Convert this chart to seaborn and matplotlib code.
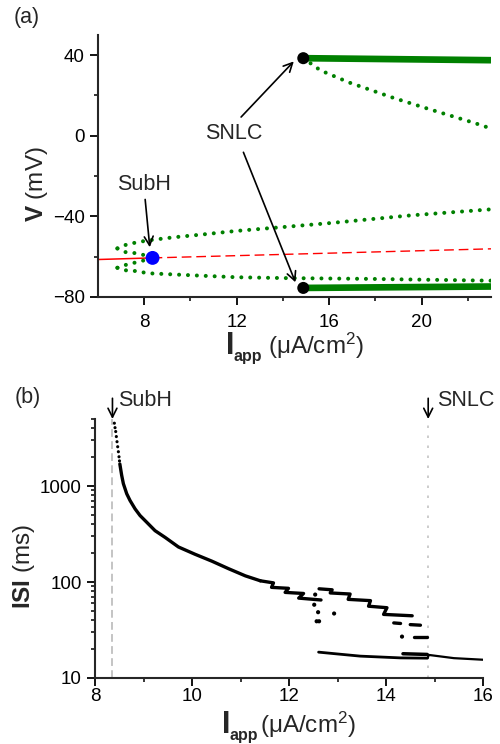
import numpy as np
import pandas as pd
import matplotlib
matplotlib.use("Agg")
import matplotlib.pyplot as plt
import seaborn as sns

# ---------------- data: panel (a) bifurcation diagram ----------------
rest_stable_I = [6.0, 8.36]
rest_stable_V = [-61.4, -60.6]
rest_unstable_I = [8.36, 23.0]
rest_unstable_V = [-60.6, -56.1]

inner_up_I = [6.84, 7.18, 7.58, 8.0, 8.36]
inner_up_V = [-55.9, -57.7, -58.2, -59.2, -60.6]
inner_lo_I = [6.84, 7.22, 7.58, 8.0, 8.36]
inner_lo_V = [-65.5, -64.0, -63.0, -61.8, -60.6]

outer_up_I = [6.84, 7.25, 7.68, 8.16, 9.34, 10.5, 12.0, 14.0, 16.06, 19.53, 23.0]
outer_up_V = [-55.9, -53.9, -52.9, -51.9, -50.3, -49.0, -47.2, -45.3, -43.3, -39.5, -36.5]
outer_lo_I = [6.84, 7.22, 7.73, 8.12, 10.21, 12.0, 14.0, 17.65, 23.0]
outer_lo_V = [-65.5, -66.8, -67.2, -68.2, -69.3, -70.2, -70.6, -71.0, -71.9]

snlc_unst_I = [14.88, 15.63, 16.87, 18.78, 20.33, 22.27, 23.0]
snlc_unst_V = [38.5, 32.4, 26.4, 18.8, 13.2, 6.4, 3.6]

stable_up_I = [14.88, 23.0]
stable_up_V = [38.5, 37.5]
stable_lo_I = [14.88, 23.0]
stable_lo_V = [-75.5, -74.8]

subh_point = (8.36, -60.6)
snlc_points_I = [14.88, 14.88]
snlc_points_V = [38.5, -75.5]

# ---------------- data: panel (b) ISI ----------------
top_dots_I = [8.399, 8.413, 8.427, 8.44, 8.454, 8.468, 8.482, 8.495, 8.505]
top_dots_ISI = [4520, 4060, 3700, 3280, 2900, 2570, 2280, 2020, 1830]

main_I = [8.512, 8.55, 8.585, 8.654, 8.722, 8.826, 8.929, 9.066, 9.238, 9.445,
          9.72, 10.06, 10.41, 10.75, 11.10, 11.41]
main_ISI = [1700, 1294, 1059, 832, 708, 579, 493, 420, 343, 292,
            232, 195, 165, 138, 116, 103]

# staircase chains (each chain drawn as one jagged line)
chainA_I = [11.41, 11.68, 11.64, 11.99, 11.92, 12.30, 12.20, 12.66]
chainA_ISI = [103, 98, 88, 86, 78, 76, 68, 65]
chainB_I = [12.62, 12.89, 12.85, 13.26, 13.22, 13.68, 13.64, 14.02, 13.95, 14.54]
chainB_ISI = [85, 83, 77, 75, 66, 64, 56, 54, 46, 44.5]
# short isolated segments: (I start, I end, ISI start, ISI end)
seg_I0 = [14.16, 14.50, 14.58]
seg_I1 = [14.30, 14.71, 14.85]
seg_S0 = [37.5, 36, 26.5]
seg_S1 = [37, 35.5, 26.5]

scatter_I = [12.54, 12.52, 12.60, 12.57, 12.62, 12.93, 14.33]
scatter_ISI = [74, 58, 48.5, 39, 39, 47, 27]

low_I = [12.61, 13.0, 13.47, 14.30, 14.85]
low_ISI = [18.6, 17.8, 16.9, 16.2, 16.1]
low_cluster_I = [14.35, 14.85]
low_cluster_ISI = [17.9, 17.6]
low2_I = [14.86, 14.88, 15.4, 16.0]
low2_ISI = [16.1, 17.4, 16.1, 15.5]

subh_I = 8.36
snlc_I = 14.87

# ---------------- style ----------------
sns.set_style("ticks")
plt.rcParams['font.family'] = ['Liberation Sans', 'DejaVu Sans']
plt.rcParams['mathtext.fontset'] = 'custom'
plt.rcParams['mathtext.rm'] = 'Liberation Sans'
plt.rcParams['mathtext.bf'] = 'Liberation Sans:bold'
plt.rcParams['mathtext.it'] = 'Liberation Sans:italic'
plt.rcParams['mathtext.sf'] = 'Liberation Sans'

W, H = 500, 744
fig = plt.figure(figsize=(W / 100, H / 100), dpi=100)

def px(x0, y0, x1, y1):
    return [x0 / W, 1 - y1 / H, (x1 - x0) / W, (y1 - y0) / H]

ax1 = fig.add_axes(px(98, 35, 491, 297))
ax2 = fig.add_axes(px(95, 419, 483, 678))

GREEN = '#008000'
dot_kw = dict(color=GREEN, lw=2.9, linestyle=(0, (0.01, 2.2)),
              dash_capstyle='round', estimator=None, sort=False)

# panel a
sns.lineplot(x=rest_stable_I, y=rest_stable_V, ax=ax1, color='red', lw=1.1, estimator=None)
sns.lineplot(x=rest_unstable_I, y=rest_unstable_V, ax=ax1, color='red', lw=1.0,
             linestyle=(0, (7, 3.5)), estimator=None)
for xi, yi in [(inner_up_I, inner_up_V), (inner_lo_I, inner_lo_V),
               (outer_up_I, outer_up_V), (outer_lo_I, outer_lo_V),
               (snlc_unst_I, snlc_unst_V)]:
    sns.lineplot(x=xi, y=yi, ax=ax1, **dot_kw)
sns.lineplot(x=stable_up_I, y=stable_up_V, ax=ax1, color=GREEN, lw=4.8,
             estimator=None, solid_capstyle='butt')
sns.lineplot(x=stable_lo_I, y=stable_lo_V, ax=ax1, color=GREEN, lw=4.8,
             estimator=None, solid_capstyle='butt')
sns.scatterplot(x=snlc_points_I, y=snlc_points_V, ax=ax1, color='black', s=75,
                edgecolor='none', zorder=5)
sns.scatterplot(x=[subh_point[0]], y=[subh_point[1]], ax=ax1, color='blue', s=100,
                edgecolor='none', zorder=5)

ax1.set_xlim(6, 23)
ax1.set_ylim(-80, 50)
ax1.set_xticks([8, 12, 16, 20])
ax1.set_xticks([10, 14, 18, 22], minor=True)
ax1.set_yticks([-80, -40, 0, 40])
ax1.set_yticks([-60, -20, 20], minor=True)

arrow_kw = dict(arrowstyle='->', lw=1.2, color='black', mutation_scale=16,
                shrinkA=0, shrinkB=0)
ax1.text(11.87, 1.0, 'SNLC', ha='center', va='center', fontsize=15.5)
ax1.annotate('', xy=(14.47, 36.9), xytext=(12.19, 9.3), arrowprops=arrow_kw)
ax1.annotate('', xy=(14.54, -72.7), xytext=(12.29, -8.2), arrowprops=arrow_kw)
ax1.text(8.0, -24.1, 'SubH', ha='center', va='center', fontsize=15.5)
ax1.annotate('', xy=(8.24, -55.3), xytext=(8.04, -31.6), arrowprops=arrow_kw)

# panel b
ax2.axvline(subh_I, color='#c4c4c4', lw=1.4, linestyle=(0, (4, 2.2)), zorder=0)
ax2.axvline(snlc_I, color='#c4c4c4', lw=1.2, linestyle=(0, (1.5, 4.5)), zorder=0)

sns.scatterplot(x=top_dots_I, y=top_dots_ISI, ax=ax2, color='black', s=5,
                edgecolor='none')
sns.lineplot(x=main_I, y=main_ISI, ax=ax2, color='black', lw=2.4, estimator=None)
sns.lineplot(x=chainA_I, y=chainA_ISI, ax=ax2, color='black', lw=2.4,
             estimator=None, sort=False)
sns.lineplot(x=chainB_I, y=chainB_ISI, ax=ax2, color='black', lw=2.4,
             estimator=None, sort=False)

segs = pd.DataFrame({
    'I': [v for pair in zip(seg_I0, seg_I1) for v in pair],
    'ISI': [v for pair in zip(seg_S0, seg_S1) for v in pair],
    'seg': [k for k in range(len(seg_I0)) for _ in range(2)],
})
sns.lineplot(data=segs, x='I', y='ISI', units='seg', estimator=None, sort=False,
             ax=ax2, color='black', lw=2.4, legend=False)
sns.scatterplot(x=scatter_I, y=scatter_ISI, ax=ax2, color='black', s=9,
                edgecolor='none')
sns.lineplot(x=low_I, y=low_ISI, ax=ax2, color='black', lw=2.0, estimator=None)
sns.lineplot(x=low_cluster_I, y=low_cluster_ISI, ax=ax2, color='black', lw=2.5,
             estimator=None)
sns.lineplot(x=low2_I, y=low2_ISI, ax=ax2, color='black', lw=1.6, estimator=None,
             sort=False)

ax2.set_yscale('log')
ax2.set_xlim(8, 16)
ax2.set_ylim(10, 5000)
ax2.set_xticks([8, 10, 12, 14, 16])
ax2.set_xticks([9, 11, 13, 15], minor=True)
ax2.set_yticks([10, 100, 1000])
ax2.set_yticklabels(['10', '100', '1000'])
ax2.yaxis.set_minor_locator(matplotlib.ticker.LogLocator(base=10, subs=np.arange(2, 10)))
ax2.yaxis.set_minor_formatter(matplotlib.ticker.NullFormatter())

tb = ('data', 'axes fraction')
ax2.annotate('', xy=(subh_I, 1.0), xytext=(subh_I, 1.08), xycoords=tb, textcoords=tb,
             arrowprops=arrow_kw, annotation_clip=False)
ax2.annotate('', xy=(snlc_I, 1.0), xytext=(snlc_I, 1.08), xycoords=tb, textcoords=tb,
             arrowprops=arrow_kw, annotation_clip=False)
ax2.text(8.47, 1.07, 'SubH', transform=ax2.get_xaxis_transform(), ha='left',
         va='center', fontsize=15.5)
ax2.text(15.06, 1.07, 'SNLC', transform=ax2.get_xaxis_transform(), ha='left',
         va='center', fontsize=15.5)

for ax, pad in [(ax1, 7), (ax2, 2)]:
    sns.despine(ax=ax)
    ax.set_xlabel('')
    ax.set_ylabel('')
    for s in ['left', 'bottom']:
        ax.spines[s].set_linewidth(1.5)
    ax.tick_params(axis='both', which='major', direction='out', length=5.5, width=1.3,
                   labelsize=13.5, color='black', labelcolor='black')
    ax.tick_params(axis='both', which='minor', direction='out', length=3, width=1.1,
                   color='black')
    ax.tick_params(axis='x', which='major', pad=pad)
    ax.tick_params(axis='y', which='major', pad=4)
    ax.grid(False)

# axis labels
def ftxt(x, y, s, **kw):
    fig.text(x / W, 1 - y / H, s, **kw)

ftxt(37, 184, r'$\mathbf{V}$ (mV)', rotation=90, ha='center', va='center', fontsize=17.5)
ftxt(24, 566, r'$\mathbf{ISI}$ (ms)', rotation=90, ha='center', va='center', fontsize=17.5)

for (xI, yI, xa, ya, xp) in [(226, 354, 234, 361, 268), (222, 733, 230, 740, 260)]:
    ftxt(xI, yI, 'I', fontsize=22, fontweight='bold', ha='left', va='baseline')
    ftxt(xa, ya, 'app', fontsize=11.5, fontweight='bold', ha='left', va='baseline')
    ftxt(xp, yI, r'(μA/cm$^2$)', fontsize=17.5, ha='left', va='baseline')

ftxt(27, 17, '(a)', fontsize=15.5, ha='center', va='center')
ftxt(28, 397, '(b)', fontsize=15.5, ha='center', va='center')

fig.savefig('out.png', dpi=100)
